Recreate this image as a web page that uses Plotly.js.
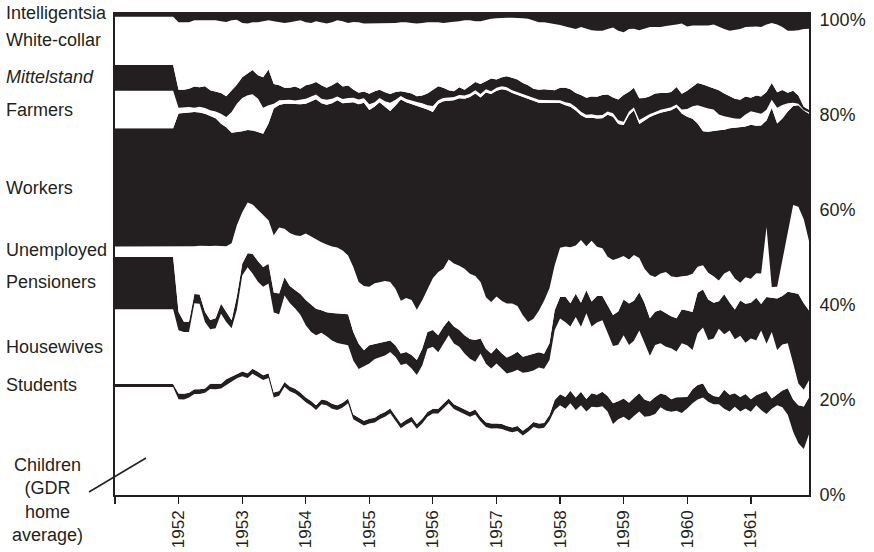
<!DOCTYPE html>
<html>
<head>
<meta charset="utf-8">
<script src="https://cdn.plot.ly/plotly-3.0.1.min.js"></script>
<style>
html,body{margin:0;padding:0;background:#fff;}
#chart{width:874px;height:552px;}
</style>
</head>
<body>
<div id="chart"></div>
<script>
// ---- Data (shares in percent) ----
const categories = ['Children','Students','Housewives','Pensioners','Unemployed','Workers','Farmers','Mittelstand','White-collar','Intelligentsia'];
const yearTicks = ['1951','1952','1953','1954','1955','1956','1957','1958','1959','1960','1961'];
const pctTicks = [0,20,40,60,80,100];

// 1951 average (two points: Jan & Dec 1951), then monthly Jan 1952 - Dec 1961
const children = [22.4,22.4,
19.8,19.8,20.2,20.9,20.9,21.2,21.9,21.9,22.1,22.8,23.5,24.2,
24.6,24.2,25.1,24.5,23.8,24.2,20.2,20.6,22.4,21.5,21.0,20.2,
19.2,18.5,17.6,18.8,18.6,17.9,17.6,18.1,19.0,15.7,15.0,14.4,
14.8,15.0,15.7,16.2,16.9,15.3,13.8,14.6,15.2,13.7,14.8,16.2,
16.9,16.9,17.9,19.0,17.8,17.3,16.7,16.2,16.7,15.2,14.1,13.8,
13.8,13.7,13.3,13.0,13.3,12.3,13.1,14.1,13.8,13.9,15.4,17.6,
18.6,17.9,19.0,17.6,18.6,17.3,18.3,18.2,18.4,17.3,14.7,15.7,
16.2,15.4,16.4,17.3,16.2,16.4,16.8,18.2,17.5,17.3,17.5,17.0,
17.9,19.0,19.8,20.2,19.3,18.8,18.8,17.9,17.3,18.3,17.3,17.9,
17.3,18.6,17.6,16.8,17.9,18.6,18.2,16.6,13.1,10.7,9.5,12.6];

const students = [0.6,0.6,
1.2,1.2,1.0,1.0,1.0,0.9,1.1,1.1,1.0,1.2,1.0,1.0,
1.0,1.0,1.0,1.0,1.0,1.0,1.0,1.0,1.0,1.0,1.0,1.0,
1.0,1.0,1.0,1.0,1.0,1.0,1.0,1.0,1.0,1.0,1.0,1.0,
1.0,1.0,1.0,1.0,1.0,1.0,1.0,1.0,1.0,1.0,1.0,1.0,
1.0,1.0,1.0,1.0,1.0,1.0,1.0,1.0,1.0,1.0,1.0,1.0,
1.0,1.0,1.0,1.0,1.0,1.0,1.0,1.0,1.0,1.0,1.2,2.1,
2.3,2.4,2.6,2.6,2.8,2.6,2.8,2.6,3.0,3.2,4.3,3.7,
3.8,3.7,3.7,3.8,3.6,3.0,3.5,2.9,3.2,2.6,2.8,3.2,
2.4,2.9,3.0,2.9,1.9,1.7,1.5,3.9,3.5,2.8,3.0,3.0,
2.6,2.1,3.5,4.8,2.1,2.3,3.5,5.5,6.7,7.9,8.8,7.7];

const housewives = [15.5,15.5,
13.1,12.8,12.6,17.8,17.7,13.8,11.3,11.5,14.5,11.9,10.0,13.2,
19.9,21.9,19.7,18.6,18.3,18.6,16.6,15.9,17.9,17.3,16.6,16.1,
15.0,14.3,14.5,13.8,13.3,13.1,12.9,12.1,11.0,11.2,10.1,11.3,
11.4,12.2,11.9,11.7,11.7,12.3,12.1,11.6,10.0,10.1,11.0,13.1,
12.8,11.7,12.4,13.1,12.6,12.4,11.6,11.0,9.9,13.1,12.1,11.4,
12.4,11.5,10.9,11.5,11.7,12.0,11.4,10.7,11.6,11.2,11.4,14.5,
15.7,15.5,13.3,16.7,13.5,17.8,13.8,15.0,14.8,13.1,11.9,11.7,
13.1,11.9,11.9,13.0,11.6,9.5,10.8,10.4,10.0,10.6,9.5,11.2,
10.7,8.1,10.7,11.6,10.9,11.9,14.1,11.5,13.3,11.2,12.7,10.6,
12.6,11.4,13.0,9.8,13.8,9.1,9.5,9.3,7.5,4.5,3.5,3.5];

const pensioners = [10.8,10.8,
3.8,2.1,2.1,1.9,1.9,2.1,1.9,2.1,2.1,2.1,1.7,2.8,
2.4,2.9,4.1,4.3,4.1,4.1,4.1,4.3,3.8,3.5,3.8,4.3,
5.2,5.7,5.5,4.7,5.0,5.7,6.1,6.3,6.4,5.9,5.2,3.3,
3.8,3.1,2.9,2.8,2.4,2.4,2.4,2.4,2.8,3.1,3.5,3.5,
3.5,3.5,3.5,3.1,3.5,3.5,3.8,4.1,4.5,3.1,3.1,3.1,
3.3,3.1,3.3,3.5,3.7,3.3,3.5,3.5,3.2,3.1,3.5,4.1,
4.5,5.3,4.8,4.8,5.0,4.8,5.2,5.5,5.0,5.7,6.4,6.9,
7.4,8.6,8.3,7.9,8.4,7.8,6.9,6.9,6.9,6.6,6.9,7.0,
7.2,7.9,8.4,7.9,8.4,7.4,5.7,8.3,5.8,6.2,7.3,8.1,
7.4,8.8,5.5,9.7,7.1,10.7,10.1,10.7,14.6,18.5,17.9,14.5];

const unemployed = [2.2,2.2,
13.5,15.7,15.7,9.9,10.1,13.6,15.3,15.0,11.9,13.6,15.9,14.7,
10.7,10.5,10.2,10.6,11.0,9.0,11.9,13.7,10.0,11.0,11.4,12.0,
13.8,14.1,14.3,14.1,14.0,13.8,13.7,13.1,12.2,13.5,12.8,13.3,
12.1,12.6,12.6,12.6,12.1,11.7,10.9,11.2,11.4,10.4,10.0,8.8,
10.7,13.1,12.1,12.6,13.1,13.3,13.8,13.5,13.3,11.7,10.7,10.7,
10.6,10.9,11.2,10.7,9.5,8.6,6.9,7.2,8.6,11.0,11.4,9.3,
10.2,10.4,11.6,10.0,13.0,9.1,12.6,10.2,9.9,10.1,11.4,11.0,
9.0,9.1,9.5,7.1,7.1,9.0,7.2,7.6,8.6,8.3,8.5,6.9,
7.2,7.9,5.4,5.0,5.5,5.5,4.3,4.3,6.6,6.4,3.7,5.5,
5.0,5.1,6.3,14.5,2.2,2.4,7.5,12.8,18.2,18.1,17.4,14.4];

const workers = [24.5,24.5,
27.6,27.6,27.8,27.8,27.6,27.5,26.9,26.4,25.4,24.7,22.9,19.3,
16.8,15.0,15.3,16.1,16.6,20.0,26.2,25.4,25.9,26.8,27.1,27.3,
26.9,28.0,29.1,28.8,29.0,29.7,30.5,30.5,31.7,34.2,36.8,38.0,
36.6,36.6,37.3,36.0,35.4,38.0,41.7,40.5,40.6,42.2,40.0,37.3,
34.5,34.9,34.7,32.9,33.8,34.7,35.2,36.6,37.8,38.2,42.4,43.1,
42.6,43.9,44.2,43.6,43.8,45.2,46.2,45.1,43.1,40.9,38.4,33.6,
30.0,29.3,29.1,28.0,25.9,26.6,25.5,26.6,26.9,29.4,29.7,27.8,
27.1,29.9,30.0,27.8,30.8,32.8,33.6,33.4,33.3,34.5,35.3,33.7,
32.9,32.1,29.7,27.8,29.2,30.1,31.1,29.8,29.5,31.3,32.3,31.2,
32.0,30.6,30.7,22.1,37.1,33.8,29.3,24.5,20.5,21.0,22.5,26.4];

const farmers = [7.8,7.8,
1.2,1.2,1.0,0.9,1.2,1.2,1.2,1.4,2.1,2.1,4.3,5.9,
6.9,7.2,7.5,6.9,5.4,3.8,1.0,1.0,0.8,0.8,0.8,1.0,
1.0,1.0,1.0,0.9,1.0,0.9,0.8,0.9,0.9,0.9,1.0,0.9,
1.2,0.9,0.9,1.2,1.7,1.2,0.7,0.7,0.7,0.8,0.8,0.9,
1.2,0.7,0.7,0.7,0.7,0.7,0.7,0.7,0.7,0.7,0.7,0.6,
0.6,0.6,0.6,0.6,0.6,0.6,0.6,0.6,0.6,0.6,0.6,0.6,
0.6,0.6,0.7,0.7,0.7,0.7,0.7,0.7,0.7,0.7,0.7,0.8,
0.7,0.7,0.6,0.8,0.7,0.6,0.6,0.6,0.6,0.6,0.6,0.8,
1.6,2.6,3.8,5.0,4.8,4.4,3.3,2.8,2.3,1.9,1.7,2.5,
2.8,2.8,2.4,2.2,1.7,3.3,2.8,1.7,0.7,0.3,0.1,0.3];

const mittelstand = [5.3,5.3,
3.7,3.6,3.8,4.4,4.0,4.5,4.1,4.1,4.3,4.3,4.5,3.9,
4.3,4.6,5.0,4.8,6.3,7.4,4.1,3.1,2.5,2.5,2.9,2.2,
2.8,2.6,2.6,2.8,2.5,2.8,3.0,2.6,2.6,1.7,1.4,1.4,
2.2,2.3,1.7,1.9,1.8,1.6,1.0,1.4,1.5,1.2,1.6,2.4,
3.3,2.9,2.1,1.5,1.2,1.6,1.2,1.7,1.7,2.1,1.7,2.6,
1.7,1.9,2.3,2.6,2.6,2.3,2.3,1.9,2.1,2.2,2.2,2.1,
2.6,3.0,2.9,2.9,3.5,3.5,3.7,3.8,4.1,3.5,3.3,4.3,
5.5,4.1,4.1,4.5,3.9,3.7,3.8,3.5,3.2,3.2,3.6,3.3,
3.8,4.1,4.6,4.7,4.6,4.3,5.0,4.7,4.4,4.1,3.9,3.7,
2.8,3.5,3.6,3.7,3.5,3.2,3.1,2.2,2.5,1.7,0.7,0.5];

const whiteCollar = [10.0,10.0,
14.0,14.0,13.8,13.7,13.9,13.7,14.5,14.8,14.9,15.4,14.5,13.5,
11.2,10.2,9.9,11.0,11.6,10.2,13.0,13.1,13.4,13.6,13.5,14.2,
13.1,12.6,12.6,13.1,13.3,13.1,12.8,13.5,12.9,14.0,14.6,14.1,
14.5,14.1,13.8,14.3,14.6,14.3,14.3,14.5,14.6,15.0,15.0,14.8,
14.1,13.3,13.4,14.1,14.4,13.7,14.4,13.5,12.6,13.0,12.7,12.4,
12.7,12.3,12.1,12.4,12.8,13.4,13.8,14.2,14.0,13.9,13.8,13.8,
13.0,12.7,12.8,13.3,14.1,14.3,13.7,13.7,13.3,13.6,14.5,14.2,
13.0,13.0,12.2,14.1,14.3,14.4,13.8,13.7,13.9,13.8,13.0,14.5,
13.3,12.6,11.9,12.2,12.6,13.3,13.1,13.4,13.5,14.3,14.7,14.4,
14.8,14.3,14.4,14.0,12.4,14.0,13.1,12.8,12.4,13.5,16.1,16.8];

const intelligentsia = [1.0,1.0,
2.1,2.1,2.1,1.7,1.7,1.7,1.7,1.7,1.9,2.1,1.7,1.6,
2.3,2.4,2.1,2.1,1.9,1.7,1.9,2.1,2.3,2.1,1.9,1.7,
2.1,2.3,1.9,2.1,2.4,2.1,1.7,1.9,2.3,2.1,2.1,2.4,
2.4,2.3,2.3,2.3,2.4,2.3,2.1,2.1,2.3,2.4,2.3,2.1,
2.1,2.1,2.3,2.1,2.0,1.9,1.7,1.7,1.9,1.9,1.6,1.4,
1.3,1.2,1.2,1.2,1.2,1.3,1.4,1.7,2.1,2.1,2.3,2.4,
2.7,3.0,3.2,3.5,3.1,3.5,3.8,3.9,3.9,3.5,3.2,3.9,
4.2,3.5,3.5,3.8,3.5,3.1,3.1,3.1,2.9,2.8,2.6,2.4,
3.0,2.8,2.8,2.8,2.8,2.6,3.1,3.5,3.9,3.7,3.5,3.1,
3.0,3.0,3.1,2.6,2.3,2.6,3.1,3.9,3.9,3.8,3.5,3.5];

// ---- dates: 1951 average shown Jan-Dec 1951, then monthly 1952-1961 ----
const dates = ['1951-01-01','1951-12-01'];
for (let y = 1952; y <= 1961; y++) {
  for (let m = 1; m <= 12; m++) dates.push(y + '-' + (m < 10 ? '0' + m : m) + '-01');
}

const INK = '#231f20';
const series = [children, students, housewives, pensioners, unemployed, workers, farmers, mittelstand, whiteCollar, intelligentsia];
const isBlack = [false, true, false, true, false, true, false, true, false, true];

const traces = series.map((vals, i) => ({
  type: 'scatter',
  mode: 'lines',
  name: categories[i],
  x: dates,
  y: vals,
  stackgroup: 'one',
  groupnorm: i === 0 ? 'percent' : undefined,
  line: {width: 0, color: isBlack[i] ? INK : '#ffffff', shape: 'linear'},
  fillcolor: isBlack[i] ? INK : '#ffffff',
  hoverinfo: 'skip',
  showlegend: false
}));

// carrier for the right-hand percentage axis
traces.push({type: 'scatter', mode: 'markers', x: [dates[0]], y: [0], yaxis: 'y2',
  marker: {opacity: 0, size: 1}, hoverinfo: 'skip', showlegend: false});

const FONT = 'Liberation Sans, Arial, Helvetica, sans-serif';
const PL = 115, PR = 809, PT = 12, PB = 495;
const px2x = px => (px - PL) / (PR - PL);
const px2y = py => (PB - py) / (PB - PT);

const labelSpecs = [
  ['Intelligentsia', 13.5, false],
  ['White-collar', 40, false],
  ['Mittelstand', 77, true],
  ['Farmers', 110, false],
  ['Workers', 188, false],
  ['Unemployed', 250, false],
  ['Pensioners', 282, false],
  ['Housewives', 347, false],
  ['Students', 385, false]
];
const annotations = labelSpecs.map(([t, py, it]) => ({
  xref: 'paper', yref: 'paper', x: px2x(6), y: px2y(py),
  xanchor: 'left', yanchor: 'middle', showarrow: false,
  borderpad: 0, borderwidth: 0,
  text: it ? '<i>' + t + '</i>' : t,
  font: {family: FONT, size: 18, color: INK}
}));
annotations.push({
  xref: 'paper', yref: 'paper', x: px2x(47), y: px2y(500),
  xanchor: 'center', yanchor: 'middle', showarrow: false, align: 'center',
  borderpad: 0, borderwidth: 0,
  text: 'Children<br>(GDR<br>home<br>average)',
  font: {family: FONT, size: 18, color: INK}
});

const layout = {
  width: 874, height: 552,
  margin: {l: PL, r: 874 - PR, t: PT, b: 552 - PB, pad: 0, autoexpand: false},
  paper_bgcolor: '#ffffff', plot_bgcolor: '#ffffff',
  showlegend: false,
  font: {family: FONT, color: INK},
  xaxis: {
    type: 'date',
    range: ['1951-01-01', '1961-12-01'],
    tickmode: 'array',
    tickvals: yearTicks.map(y => y + '-01-01'),
    ticktext: yearTicks.map((y, i) => i === 0 ? '' : y),
    tickangle: -90,
    ticks: 'outside', ticklen: 7, tickwidth: 1.3, tickcolor: INK,
    tickfont: {family: FONT, size: 17, color: INK},
    showgrid: false, zeroline: false,
    showline: true, linecolor: INK, linewidth: 1.6,
    fixedrange: true
  },
  yaxis: {
    range: [0, 100],
    showticklabels: false, ticks: '',
    showgrid: false, zeroline: false,
    showline: true, mirror: true, linecolor: INK, linewidth: 1.6,
    fixedrange: true
  },
  yaxis2: {
    overlaying: 'y', side: 'right',
    range: [0, 101.68],
    tickmode: 'array', tickvals: pctTicks, ticktext: pctTicks.map(v => v + '%'),
    ticks: 'outside', ticklen: 6, tickcolor: 'rgba(0,0,0,0)',
    tickfont: {family: FONT, size: 18, color: INK},
    showgrid: false, zeroline: false, showline: false,
    fixedrange: true
  },
  shapes: [{
    type: 'line', xref: 'paper', yref: 'paper',
    x0: px2x(89), y0: px2y(492), x1: px2x(146), y1: px2y(458),
    line: {color: INK, width: 1.5}
  }],
  annotations: annotations
};

Plotly.newPlot('chart', traces, layout, {displayModeBar: false, staticPlot: true});
</script>
</body>
</html>
